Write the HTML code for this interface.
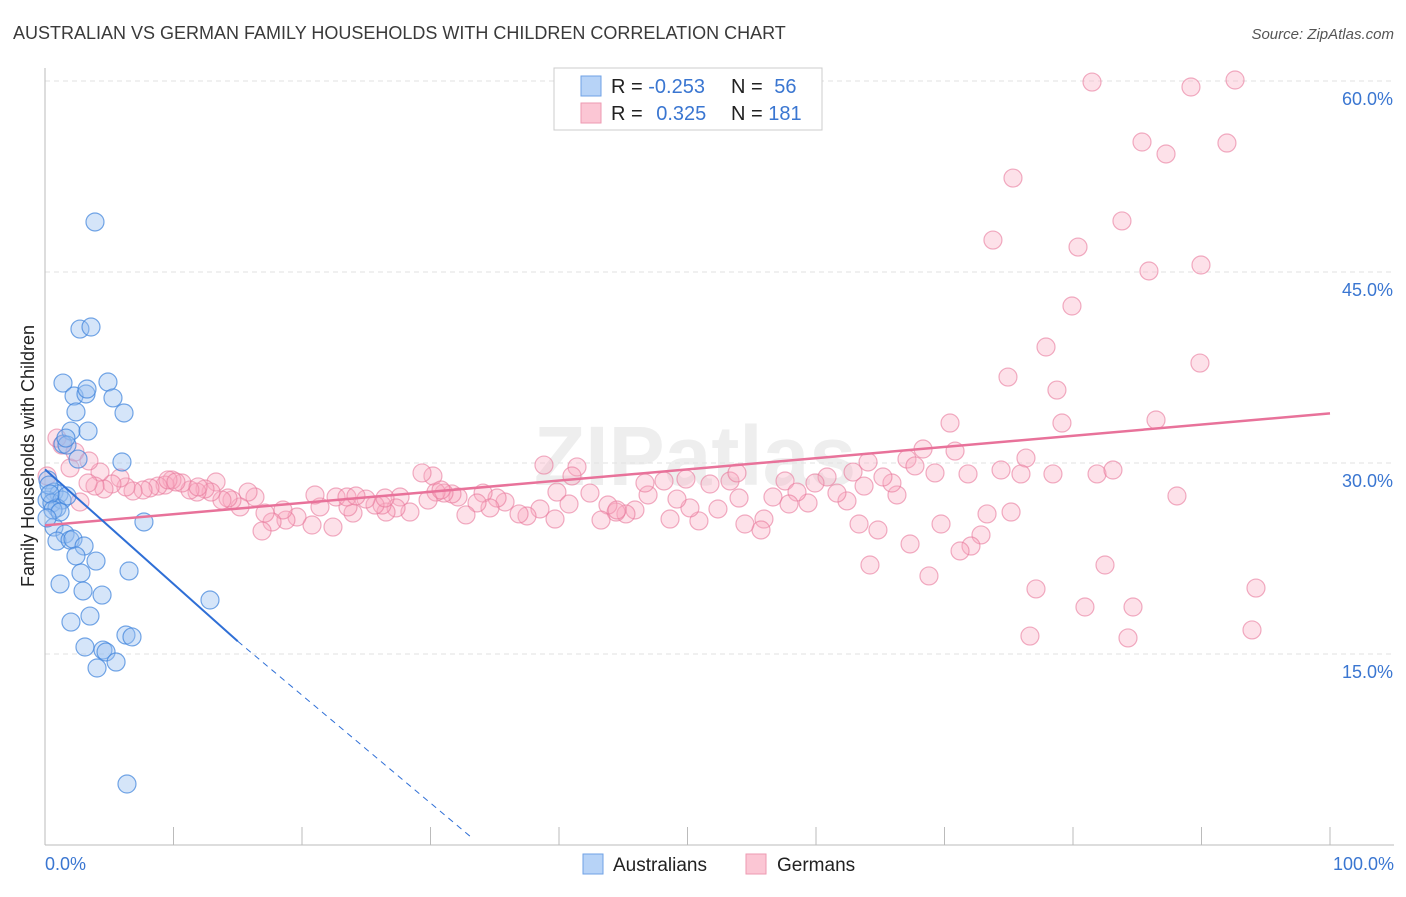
<!DOCTYPE html>
<html><head><meta charset="utf-8"><style>
body{margin:0;width:1406px;height:892px;background:#fff;font-family:"Liberation Sans",sans-serif;overflow:hidden}
svg text{font-family:"Liberation Sans",sans-serif}
</style></head><body>
<svg id="chart" width="1406" height="892" xmlns="http://www.w3.org/2000/svg">
<text x="13" y="39" font-size="18" fill="#3a3a3a">AUSTRALIAN VS GERMAN FAMILY HOUSEHOLDS WITH CHILDREN CORRELATION CHART</text>
<text x="1394" y="39" font-size="15" fill="#555" text-anchor="end" font-style="italic">Source: ZipAtlas.com</text>
<text x="695" y="485" font-size="84" fill="#eeeeee" text-anchor="middle" font-weight="bold" font-family="Liberation Serif">ZIPatlas</text>
<g id="grid"></g>
<g id="axes"></g>
<g id="pink"></g>
<g id="blue"></g>
<g id="trends"></g>
<text transform="translate(34,456) rotate(-90)" font-size="18" fill="#222" text-anchor="middle">Family Households with Children</text>
<g>
<rect x="554" y="68" width="268" height="62" fill="#fff" stroke="#ccc"/>
<rect x="581" y="76" width="20" height="20" fill="#b7d3f7" stroke="#6fa1e6"/>
<rect x="581" y="103" width="20" height="20" fill="#fbc6d4" stroke="#ee9ab2"/>
<text x="611" y="93" font-size="20" fill="#222">R = <tspan fill="#3a76d1">-0.253</tspan></text>
<text x="731" y="93" font-size="20" fill="#222">N = <tspan fill="#3a76d1" dx="6">56</tspan></text>
<text x="611" y="120" font-size="20" fill="#222">R = <tspan fill="#3a76d1" dx="8">0.325</tspan></text>
<text x="731" y="120" font-size="20" fill="#222">N = <tspan fill="#3a76d1">181</tspan></text>
</g>
<g>
<rect x="583" y="854" width="20" height="20" fill="#b7d3f7" stroke="#6fa1e6"/>
<text x="613" y="871" font-size="19" fill="#222">Australians</text>
<rect x="746" y="854" width="20" height="20" fill="#fbc6d4" stroke="#ee9ab2"/>
<text x="777" y="871" font-size="19" fill="#222">Germans</text>
</g>
</svg>
<script>
const yTicks=[15,30,45,60];
const yTickLabels=["15.0%","30.0%","45.0%","60.0%"];
const xTickLabels=["0.0%","100.0%"];
const bluePx=[[95,222],[80,329],[91,327],[63,383],[108,382],[74,396],[86,394],[87,389],[113,398],[76,412],[124,413],[71,431],[88,431],[63,444],[67,445],[78,459],[122,462],[48,480],[54,492],[59,494],[47,500],[52,503],[62,500],[57,508],[67,496],[54,527],[65,534],[57,541],[70,540],[73,539],[84,546],[144,522],[76,556],[96,561],[81,573],[129,571],[60,584],[83,591],[102,595],[210,600],[71,622],[90,616],[85,647],[126,635],[132,637],[103,650],[106,652],[116,662],[97,668],[127,784],[66,438],[49,485],[50,494],[53,510],[60,512],[47,518]];
const pinkPx=[[1092,82],[1191,87],[1235,80],[1142,142],[1166,154],[1227,143],[1013,178],[993,240],[1078,247],[1122,221],[1149,271],[1201,265],[1072,306],[1046,347],[1008,377],[1057,390],[1200,363],[950,423],[1062,423],[1156,420],[955,451],[923,449],[868,462],[907,459],[1026,458],[915,466],[853,472],[1001,470],[1021,474],[968,474],[935,473],[1053,474],[1097,474],[1113,470],[1177,496],[1256,588],[1252,630],[1036,589],[1030,636],[1085,607],[1133,607],[1128,638],[1105,565],[987,514],[981,535],[971,546],[960,551],[929,576],[870,565],[910,544],[941,524],[878,530],[859,524],[897,495],[892,483],[883,477],[864,486],[847,501],[837,493],[827,477],[815,483],[808,503],[785,481],[797,492],[789,504],[773,497],[764,519],[761,530],[745,524],[739,498],[730,481],[710,484],[737,473],[718,509],[699,521],[690,508],[677,499],[686,479],[664,481],[670,519],[648,495],[645,483],[635,510],[626,514],[616,512],[608,505],[601,520],[590,493],[577,467],[572,476],[557,492],[544,465],[569,504],[555,519],[540,509],[527,516],[519,514],[505,502],[497,498],[483,493],[490,508],[477,503],[466,515],[458,497],[452,494],[444,493],[436,492],[433,476],[422,473],[428,500],[410,512],[400,497],[396,508],[386,512],[382,505],[375,505],[366,499],[353,513],[348,507],[336,497],[333,527],[320,507],[315,495],[312,525],[297,517],[286,520],[283,510],[272,522],[262,531],[265,513],[255,497],[248,492],[240,507],[232,500],[228,498],[222,500],[216,482],[211,492],[205,489],[197,492],[190,490],[182,483],[172,480],[165,485],[158,486],[150,488],[143,490],[133,491],[126,487],[120,478],[112,484],[104,489],[100,472],[95,486],[88,483],[80,502],[70,468],[62,445],[57,438],[47,476],[75,452],[89,461],[168,480],[176,482],[198,487],[347,497],[356,496],[385,498],[441,490],[617,510],[1011,512]];
const blueX=bluePx.map(p=>+((p[0]-45)/12.85).toFixed(2));
const blueY=bluePx.map(p=>+((845-p[1])/12.733).toFixed(2));
const pinkX=pinkPx.map(p=>+((p[0]-45)/12.85).toFixed(2));
const pinkY=pinkPx.map(p=>+((845-p[1])/12.733).toFixed(2));
const blueTrend=[[0,29.5],[15,16.0],[33.3,0.5]];
const pinkTrend=[[0,25.1],[100,33.9]];

const NS="http://www.w3.org/2000/svg";
const xS=v=>45+v*12.85, yS=v=>845-v*12.733;
function mk(t,a,p){const e=document.createElementNS(NS,t);for(const k in a)e.setAttribute(k,a[k]);p.appendChild(e);return e;}
const grid=document.getElementById('grid'),axes=document.getElementById('axes');
yTicks.forEach((t,i)=>{
 const l=mk('line',{x1:45,x2:1394,y1:yS(t),y2:yS(t),stroke:'#e2e2e2','stroke-dasharray':'5,4'},grid);
 
 
 const tx=mk('text',{x:1393,y:yS(t)+24,'font-size':18,fill:'#3a76d1','text-anchor':'end'},axes);
 tx.textContent=yTickLabels[i];
 
 
});
mk('line',{x1:45,x2:45,y1:68,y2:845,stroke:'#bbb'},axes);
mk('line',{x1:45,x2:1394,y1:845,y2:845,stroke:'#bbb'},axes);
for(let i=0;i<=10;i++){mk('line',{x1:xS(i*10),x2:xS(i*10),y1:827,y2:845,stroke:'#bbb'},axes);}
[[0,'start',45],[1,'end',1394]].forEach(([i,a,x])=>{const t=mk('text',{x:x,y:870,'font-size':18,fill:'#3a76d1','text-anchor':a},axes);t.textContent=xTickLabels[i];
 
 });
const pg=document.getElementById('pink');
pinkX.forEach((x,i)=>{const c=mk('circle',{cx:xS(x),cy:yS(pinkY[i]),r:9,fill:'rgba(248,170,192,0.35)',stroke:'rgba(232,120,155,0.6)','stroke-width':1.2},pg);
 
 });
const bg=document.getElementById('blue');
blueX.forEach((x,i)=>{const c=mk('circle',{cx:xS(x),cy:yS(blueY[i]),r:9,fill:'rgba(150,190,240,0.4)',stroke:'rgba(60,130,220,0.7)','stroke-width':1.2},bg);
 
 });
const tg=document.getElementById('trends');
const pl=mk('line',{x1:xS(pinkTrend[0][0]),y1:yS(pinkTrend[0][1]),x2:xS(pinkTrend[1][0]),y2:yS(pinkTrend[1][1]),stroke:'#e8729a','stroke-width':2.5},tg);


const bl=mk('line',{x1:xS(blueTrend[0][0]),y1:yS(blueTrend[0][1]),x2:xS(blueTrend[1][0]),y2:yS(blueTrend[1][1]),stroke:'#2f6fd6','stroke-width':2},tg);


const bd=mk('line',{x1:xS(blueTrend[1][0]),y1:yS(blueTrend[1][1]),x2:xS(blueTrend[2][0]),y2:yS(blueTrend[2][1]),stroke:'#2f6fd6','stroke-width':1,'stroke-dasharray':'6,5'},tg);


</script>
</body></html>
